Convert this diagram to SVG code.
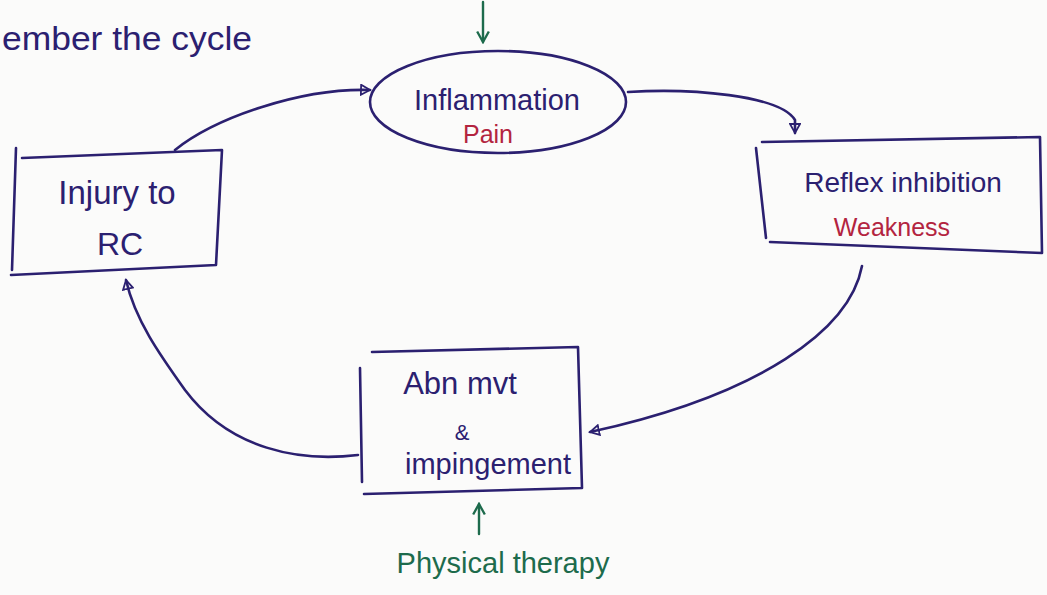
<svg xmlns="http://www.w3.org/2000/svg" width="1047" height="595" viewBox="0 0 1047 595">
<defs>
<style>
.ink{fill:none;stroke:#2b2070;stroke-width:2.6;stroke-linecap:round;stroke-linejoin:round}
.grn{fill:none;stroke:#1d6b4c;stroke-width:2.4;stroke-linecap:round;stroke-linejoin:round}
.t{font-family:"Liberation Sans",Arial,sans-serif;fill:#2b2070}
.r{font-family:"Liberation Sans",Arial,sans-serif;fill:#b3243f}
.g{font-family:"Liberation Sans",Arial,sans-serif;fill:#1d6b4c}
</style>
<marker id="ah" viewBox="0 0 12 12" refX="10" refY="6" markerWidth="12" markerHeight="12" markerUnits="userSpaceOnUse" orient="auto">
<path d="M1,1 L10,6 L1,11 Z" fill="none" stroke="#2b2070" stroke-width="1.8"/>
</marker>
<marker id="gh" viewBox="0 0 12 12" refX="10" refY="6" markerWidth="14" markerHeight="14" markerUnits="userSpaceOnUse" orient="auto">
<path d="M1,1 L10,6 L1,11" fill="none" stroke="#1d6b4c" stroke-width="2"/>
</marker>
</defs>
<rect width="1047" height="595" fill="#fbfbfa"/>
<text class="t" x="2" y="50" font-size="34" textLength="250" lengthAdjust="spacingAndGlyphs">ember the cycle</text>
<g id="connectors">
<path class="ink" d="M175,150 C215,118 300,88 370,90" marker-end="url(#ah)"/>
<path class="ink" d="M628,92 C690,88 780,95 795,120 L795,133" marker-end="url(#ah)"/>
<path class="ink" d="M862,266 C850,330 760,395 590,432" marker-end="url(#ah)"/>
<path class="ink" d="M358,455 C300,462 230,450 185,390 C160,355 135,320 126,280" marker-end="url(#ah)"/>
<path class="grn" d="M483,2 L483,42" marker-end="url(#gh)"/>
<path class="grn" d="M479,534 L479,504" marker-end="url(#gh)"/>
</g>
<g id="injury">
<path class="ink" d="M22,158 L222,150 L216,265 L11,275 M16,148 L12,270"/>
<text class="t" x="117" y="204" font-size="33" text-anchor="middle">Injury to</text>
<text class="t" x="120" y="255" font-size="32" text-anchor="middle">RC</text>
</g>
<g id="inflammation">
<ellipse class="ink" cx="498" cy="102" rx="128" ry="51"/>
<text class="t" x="497" y="110" font-size="29" text-anchor="middle">Inflammation</text>
<text class="r" x="488" y="143" font-size="25" text-anchor="middle">Pain</text>
</g>
<g id="reflex">
<path class="ink" d="M762,142 L1040,137 L1042,253 L770,242 M756,148 L766,238"/>
<text class="t" x="903" y="192" font-size="28" text-anchor="middle">Reflex inhibition</text>
<text class="r" x="892" y="236" font-size="25" text-anchor="middle">Weakness</text>
</g>
<g id="abn">
<path class="ink" d="M372,352 L578,347 L582,488 L364,494 M360,368 L362,482"/>
<text class="t" x="460" y="394" font-size="31" text-anchor="middle">Abn mvt</text>
<text class="t" x="462" y="440" font-size="22" text-anchor="middle">&amp;</text>
<text class="t" x="488" y="474" font-size="29" text-anchor="middle">impingement</text>
</g>
<g id="physical">
<text class="g" x="503" y="573" font-size="29" text-anchor="middle">Physical therapy</text>
</g>
</svg>
